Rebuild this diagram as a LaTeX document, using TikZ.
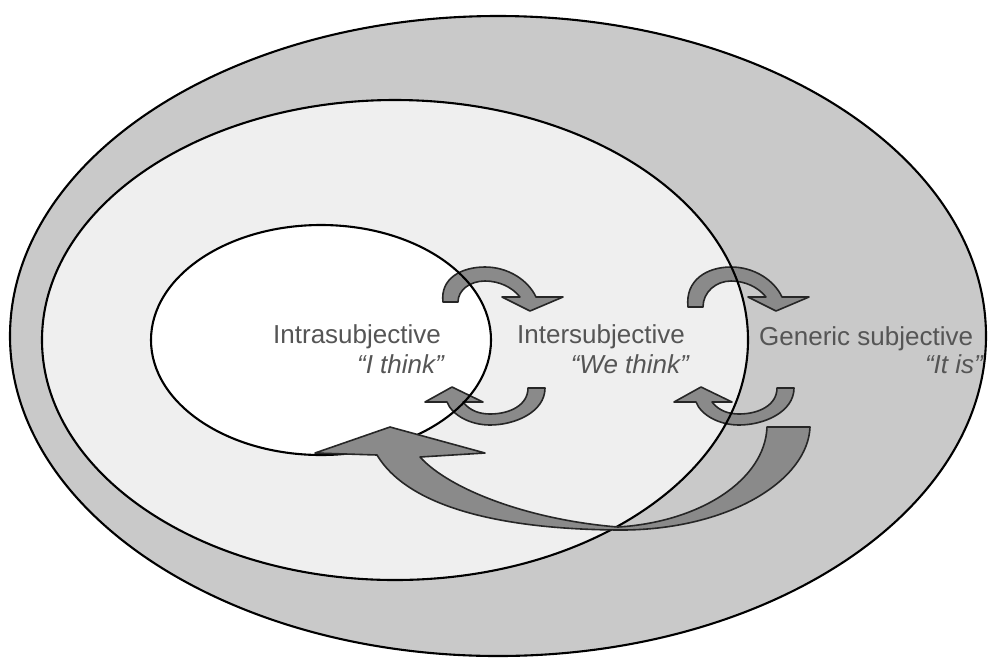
\documentclass[tikz,border=0pt]{standalone}
\usepackage{fontspec}
\setmainfont{Liberation Sans}
\newfontfamily\lblfont{Liberation Sans}
\definecolor{outerfill}{HTML}{C9C9C9}
\definecolor{midfill}{HTML}{EFEFEF}
\definecolor{arrowfill}{HTML}{8A8A8A}
\definecolor{textgray}{HTML}{555555}
\tikzset{
  region/.style={draw=black, line width=2.1pt},
  cyclearrow/.style={fill=arrowfill, draw=black!85, line width=1.6pt, line join=round},
  lbl/.style={inner sep=0pt, text=textgray, font=\lblfont\fontsize{26}{30}\selectfont},
  qlbl/.style={inner sep=0pt, text=textgray, font=\lblfont\itshape\fontsize{26}{30}\selectfont}
}
\begin{document}
\begin{tikzpicture}[x=1pt,y=-1pt]
\useasboundingbox (0,0) rectangle (990,657);
\fill[white] (0,0) rectangle (990,657);
% fills
\fill[outerfill] (498,336) ellipse [x radius=488pt, y radius=320pt];
\fill[midfill] (395,340) ellipse [x radius=353pt, y radius=240pt];
\fill[white] (321,340) ellipse [x radius=170pt, y radius=115pt];
% small cycle arrows (under outlines)
% arrow 1 (top, intra -> inter)
\path[cyclearrow] (443,302) .. controls (440,278) and (462,267) .. (485,267)
  .. controls (508,267) and (528,280) .. (536,297) -- (563,297) -- (530,311) -- (502,297) -- (520,297)
  .. controls (512,287) and (499,281) .. (485,281) .. controls (470,281) and (458,290) .. (458,302) -- cycle;
% arrow 2 (top, inter -> generic)
\path[cyclearrow] (688,307) .. controls (685,280) and (707,267) .. (731,267)
  .. controls (754,267) and (774,280) .. (782,297) -- (809,297) -- (776,311) -- (748,297) -- (766,297)
  .. controls (758,287) and (745,281) .. (731,281) .. controls (716,281) and (703,292) .. (703,307) -- cycle;
% arrow 3 (bottom, inter -> intra)
\path[cyclearrow] (545,388) .. controls (545,412) and (515,425) .. (490,425)
  .. controls (470,425) and (452,415) .. (447,402) -- (425,402) -- (452,387) -- (483,402) -- (463,402)
  .. controls (470,411) and (480,414) .. (490,414) .. controls (510,414) and (528,405) .. (528,388) -- cycle;
% arrow 4 (bottom, generic -> inter)
\begin{scope}[xshift=249pt]
\path[cyclearrow] (545,388) .. controls (545,412) and (515,425) .. (490,425)
  .. controls (470,425) and (452,415) .. (447,402) -- (425,402) -- (452,387) -- (483,402) -- (463,402)
  .. controls (470,411) and (480,414) .. (490,414) .. controls (510,414) and (528,405) .. (528,388) -- cycle;
\end{scope}
% outlines
\draw[region] (498,336) ellipse [x radius=488pt, y radius=320pt];
\draw[region] (395,340) ellipse [x radius=353pt, y radius=240pt];
\draw[region] (321,340) ellipse [x radius=170pt, y radius=115pt];
% big arrow (generic -> intra)
\path[cyclearrow] (810,427) .. controls (808,480) and (730,529) .. (624,530)
  .. controls (510,530) and (410,510) .. (377,455) -- (315,453) -- (390,427) -- (485,453) -- (420,457)
  .. controls (450,490) and (530,520) .. (618,527) .. controls (700,522) and (765,480) .. (767,427) -- cycle;
% labels
\node[lbl, anchor=base west] (intra) at (273,343) {Intrasubjective};
\node[qlbl, anchor=base east] (ithink) at (444,373) {“I think”};
\node[lbl, anchor=base west] (inter) at (517,343) {Intersubjective};
\node[qlbl, anchor=base east] (wethink) at (689,373) {“We think”};
\node[lbl, anchor=base west] (generic) at (759,345) {Generic subjective};
\node[qlbl, anchor=base east] (itis) at (983,373) {“It is”};
\end{tikzpicture}
\end{document}
